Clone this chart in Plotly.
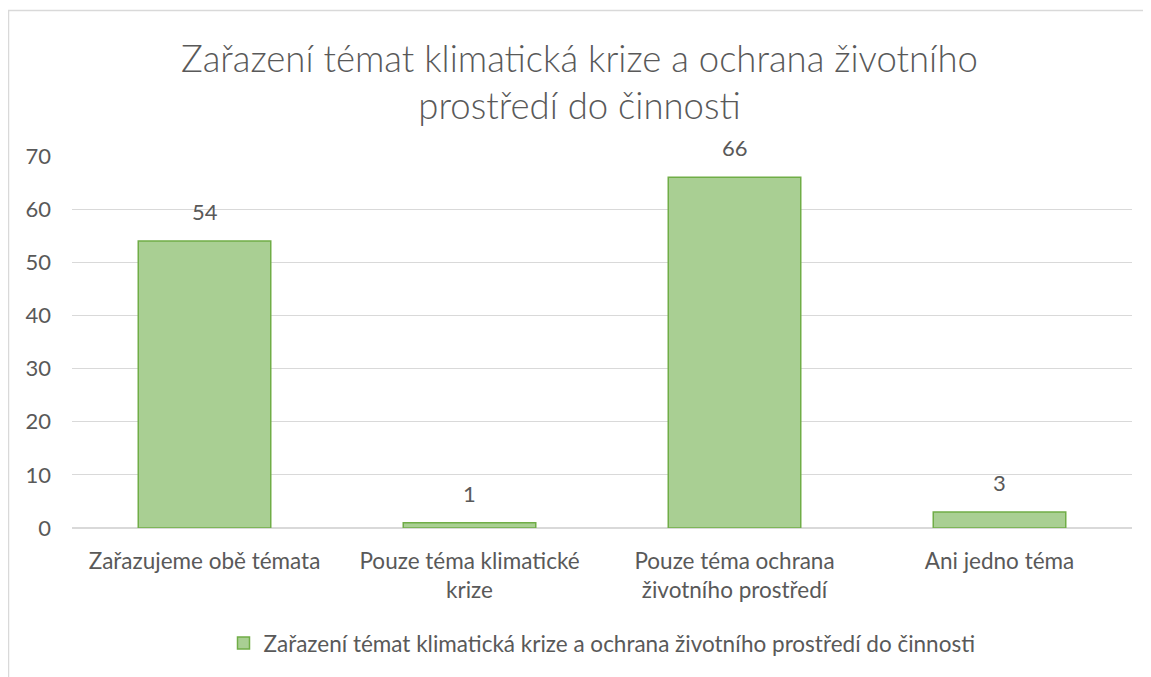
import plotly.graph_objects as go

# data
categories = ['Zařazujeme obě témata', 'Pouze téma klimatické<br>krize',
              'Pouze téma ochrana<br>životního prostředí', 'Ani jedno téma']
values = [54, 1, 66, 3]
series_name = 'Zařazení témat klimatická krize a ochrana životního prostředí do činnosti'
title_text = 'Zařazení témat klimatická krize a ochrana životního<br>prostředí do činnosti'

font_family = 'Lato, Open Sans, sans-serif'
grey = '#595959'

fig = go.Figure()

fig.add_trace(go.Bar(
    x=categories, y=values, name=series_name,
    marker=dict(color='#A9CF93', line=dict(color='#70AD47', width=1.5)),
    width=0.5,
))

# data labels above the bars
for c, v in zip(categories, values):
    fig.add_annotation(x=c, y=v, text=str(v), showarrow=False,
                       yanchor='bottom', yshift=14,
                       font=dict(size=22, color=grey, family=font_family))

# body has an 8px margin in the page, so the figure is 8px smaller
fig.update_layout(
    width=1143, height=669,
    margin=dict(l=64, r=19, t=148, b=145),
    paper_bgcolor='white', plot_bgcolor='white',
    font=dict(family=font_family, color=grey),
    title=dict(text=title_text, x=0.5, xanchor='center', y=0.905, yanchor='middle',
               font=dict(size=36.5, color=grey, family=font_family, weight=300)),
    showlegend=True,
    legend=dict(orientation='h', x=0.5, xanchor='center', y=-0.31, yanchor='middle',
                font=dict(size=22.5, color=grey, family=font_family)),
)

fig.update_yaxes(range=[0, 70], dtick=10, showgrid=True, gridcolor='#D9D9D9', gridwidth=1,
                 zeroline=True, zerolinecolor='#D9D9D9', ticks='', showline=False,
                 tickfont=dict(size=22, color=grey), ticklabelstandoff=20)
fig.update_xaxes(showgrid=False, ticks='', showline=False,
                 tickfont=dict(size=22.5, color=grey), ticklabelstandoff=17)

# chart area outline (cropped on right and bottom)
fig.add_shape(type='rect', xref='paper', yref='paper',
              x0=-63.5 / 1060, x1=1.1, y0=-0.5, y1=523 / 376,
              line=dict(color='#D9D9D9', width=1.5), layer='below')

fig.write_html('out.html')
